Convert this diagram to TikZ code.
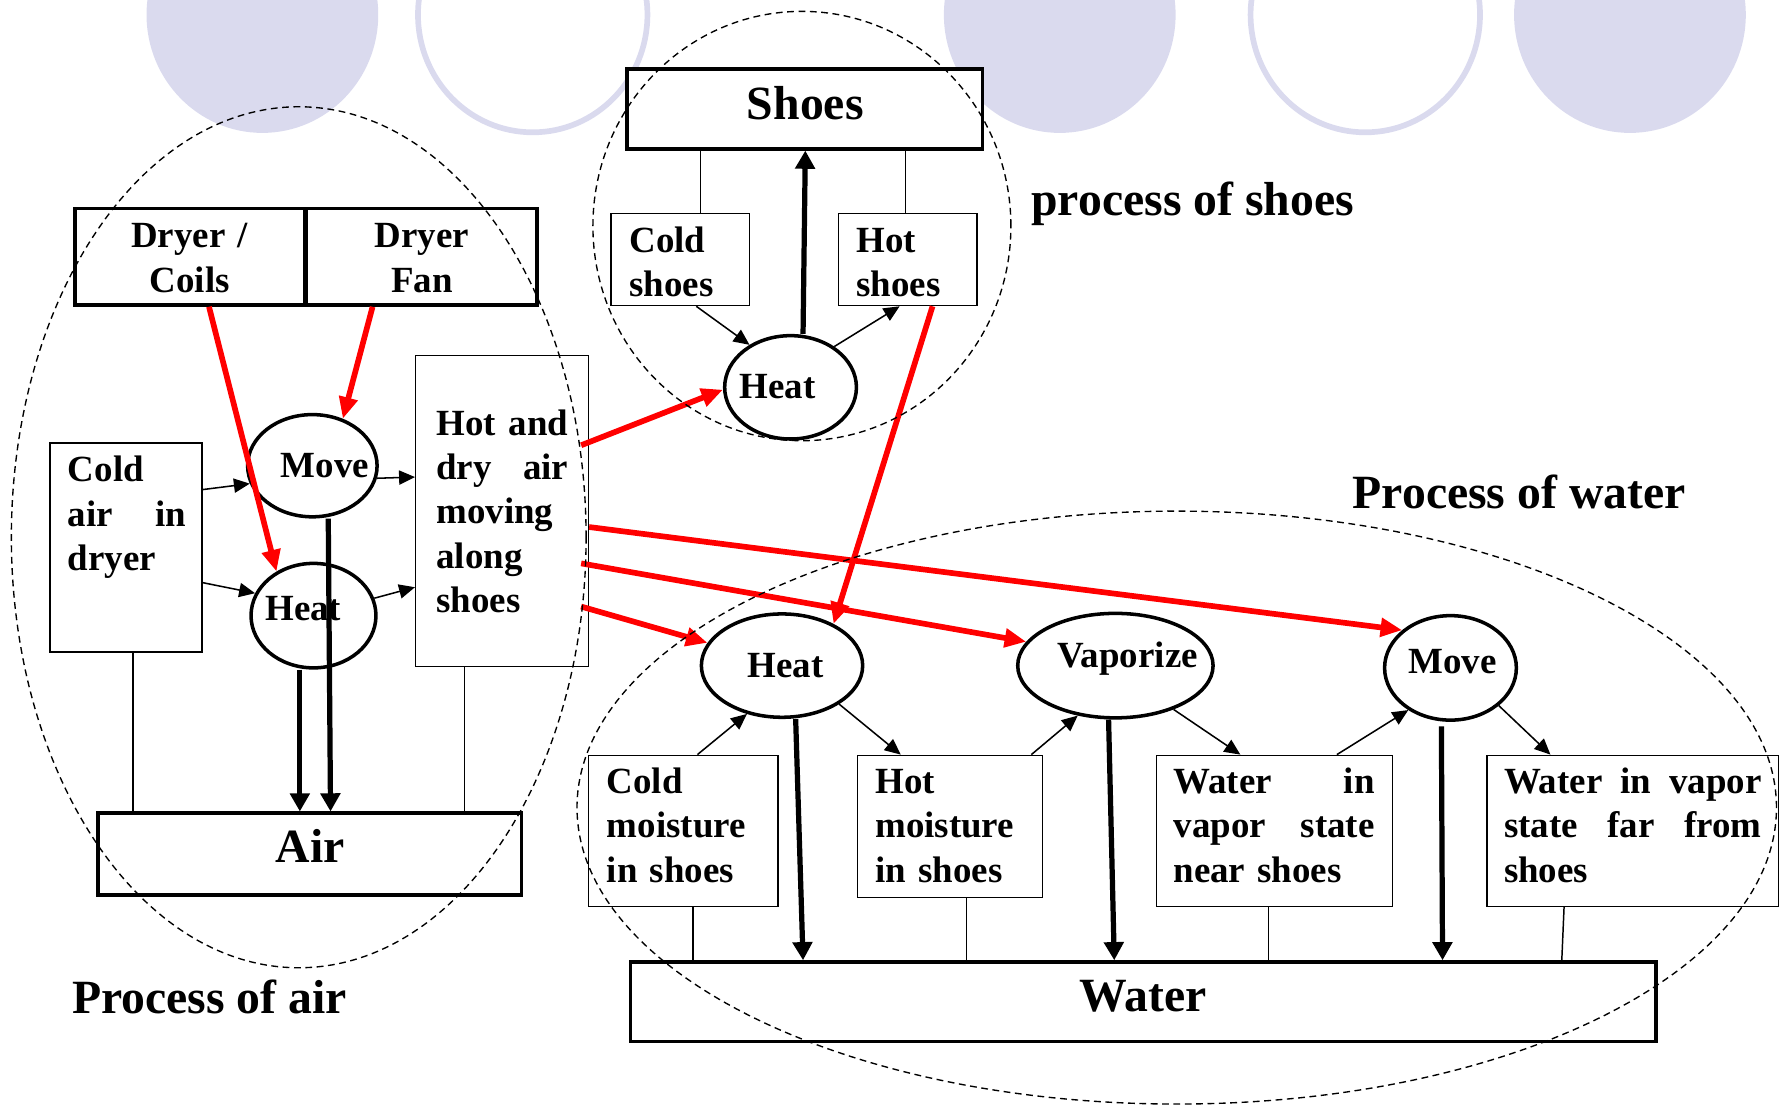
\documentclass[tikz,border=0pt]{standalone}
\usepackage{fontspec}
\setmainfont{Liberation Serif}
\usetikzlibrary{arrows.meta,shapes.geometric}
\definecolor{lav}{RGB}{218,218,238}
\definecolor{pred}{RGB}{255,0,0}

\tikzset{
  box/.style={draw, fill=white, line width=1.3pt, inner sep=0pt},
  heavybox/.style={draw, fill=white, line width=3.2pt, inner sep=0pt},
  oval/.style={ellipse, draw, fill=white, line width=3.1pt, inner sep=0pt},
  small/.style={font=\fontsize{32.5}{39}\selectfont\bfseries, inner sep=0pt},
  boxtext/.style={small, anchor=north west, align=left},
  centertext/.style={small, anchor=north, align=center, text width=190pt},
  ovaltext/.style={small, anchor=base},
  big/.style={font=\fontsize{42}{48}\selectfont\bfseries, inner sep=0pt, anchor=base},
  link/.style={line width=1.3pt},
  flow/.style={line width=1.35pt, -{Triangle[length=14pt,width=12.5pt]}},
  mainflow/.style={line width=4.6pt, -{Triangle[length=16pt,width=17pt]}},
  feed/.style={line width=5pt, color=pred, -{Triangle[length=19pt,width=16pt]}},
  region/.style={ellipse, draw, line width=1.2pt, dash pattern=on 6pt off 4pt, inner sep=0pt}
}

\begin{document}
\begin{tikzpicture}[x=1pt,y=-1pt]
\path[use as bounding box] (0,0) rectangle (1568,975);
\clip (0,0) rectangle (1568,975);

% slide decoration along the top edge
\fill[lav] (231,13) ellipse [x radius=102pt, y radius=104pt];
\draw[lav, line width=5pt] (469,13) ellipse [x radius=101pt, y radius=103.5pt];
\fill[lav] (933,13) ellipse [x radius=102pt, y radius=104pt];
\draw[lav, line width=5pt] (1202,13) ellipse [x radius=101pt, y radius=103.5pt];
\fill[lav] (1435,13) ellipse [x radius=102pt, y radius=104pt];

% boxes
\node[heavybox, minimum width=202pt, minimum height=85pt] (coils) at (167,226) {};
\node[heavybox, minimum width=203pt, minimum height=85pt] (fan) at (371.5,226) {};
\node[heavybox, minimum width=313pt, minimum height=70pt] (shoes) at (708.5,96) {};
\node[box, minimum width=122pt, minimum height=81pt] (colds) at (599,228.5) {};
\node[box, minimum width=122pt, minimum height=81pt] (hots) at (799,228.5) {};
\node[box, minimum width=134pt, minimum height=184pt] (coldair) at (111,482) {};
\node[box, minimum width=152pt, minimum height=274pt] (hotdry) at (442,450) {};
\node[heavybox, minimum width=373pt, minimum height=72pt] (air) at (272.5,752) {};
\node[box, minimum width=167pt, minimum height=133pt] (coldm) at (601.5,731.5) {};
\node[box, minimum width=163pt, minimum height=125pt] (hotm) at (836.5,727.5) {};
\node[box, minimum width=208pt, minimum height=133pt] (near) at (1122,731.5) {};
\node[box, minimum width=257pt, minimum height=133pt] (far) at (1437.5,731.5) {};
\node[heavybox, minimum width=903pt, minimum height=70pt] (water) at (1006.5,882) {};

% processes
\node[oval, minimum width=116pt, minimum height=91pt] (heatS) at (696,341) {};
\node[oval, minimum width=114pt, minimum height=90pt] (moveA) at (275,410) {};
\node[oval, minimum width=110pt, minimum height=92pt] (heatA) at (276,542) {};
\node[oval, minimum width=142pt, minimum height=91pt] (heatW) at (688.5,586) {};
\node[oval, minimum width=172pt, minimum height=92pt] (vap) at (982,586) {};
\node[oval, minimum width=116pt, minimum height=92pt] (moveW) at (1277,588) {};

% texts
\node[big] (shoes-t) at (709,105) {Shoes};
\node[big] (air-t) at (273,759) {Air};
\node[big] (water-t) at (1006.7,890.7) {Water};
\node[big] (lab-shoes) at (1050,190) {process of shoes};
\node[big] (lab-water) at (1337.5,448) {Process of water};
\node[big] (lab-air) at (184.5,892) {Process of air};

\node[centertext] (coils-t) at (167,190.7) {\strut Dryer /\\Coils};
\node[centertext] (fan-t) at (371.5,190.7) {\strut Dryer\\Fan};
\node[boxtext, text width=104pt] (coldair-t) at (59.6,396.7) {\strut Cold\\air\hfill in\\dryer};
\node[boxtext, text width=116pt] (hotdry-t) at (384,355.7) {\strut Hot\hfill and\\dry\hfill air\\moving\\along\\shoes};
\node[boxtext, text width=90pt] (colds-t) at (554,194.9) {\strut Cold\\shoes};
\node[boxtext, text width=90pt] (hots-t) at (753.7,194.9) {\strut Hot\\shoes};
\node[boxtext, text width=140pt] (coldm-t) at (534.1,671.2) {\strut Cold\\moisture\\in shoes};
\node[boxtext, text width=140pt] (hotm-t) at (770.4,671.2) {\strut Hot\\moisture\\in shoes};
\node[boxtext, text width=177pt] (near-t) at (1033,671.2) {\strut Water\hfill in\\vapor\hfill state\\near shoes};
\node[boxtext, text width=226.6pt] (far-t) at (1324,671.2) {\strut Water\hfill in\hfill vapor\\state\hfill far\hfill from\\shoes};

\node[ovaltext] (heatS-t) at (684.5,351) {Heat};
\node[ovaltext] (moveA-t) at (286,420) {Move};
\node[ovaltext] (heatA-t) at (267,546) {Heat};
\node[ovaltext] (heatW-t) at (691.5,596.3) {Heat};
\node[ovaltext] (vap-t) at (992.8,587.5) {Vaporize};
\node[ovaltext] (moveW-t) at (1279,592.8) {Move};

% plain links between parts and wholes
\draw[link] ([xshift=-92pt]shoes.south) -- ([xshift=17.5pt]colds.north);
\draw[link] ([xshift=88.5pt]shoes.south) -- ([xshift=-2pt]hots.north);
\draw[link] ([xshift=6pt]coldair.south) -- ([xshift=-155.5pt]air.north);
\draw[link] ([xshift=-33pt]hotdry.south) -- ([xshift=136.5pt]air.north);
\draw[link] ([xshift=8.5pt]coldm.south) -- ([xshift=-396.5pt]water.north);
\draw[link] ([xshift=14.5pt]hotm.south) -- ([xshift=-155.5pt]water.north);
\draw[link] ([xshift=-5pt]near.south) -- ([xshift=110.5pt]water.north);
\draw[link] ([xshift=-60.5pt]far.south) -- ([xshift=368.5pt]water.north);

% state changes
\draw[flow] ([xshift=14pt]colds.south) -- (heatS.134);
\draw[flow] (heatS.43) -- ([xshift=-7pt]hots.south);
\draw[flow] ([yshift=51pt]coldair.east) -- (moveA.196);
\draw[flow] ([yshift=-31pt]coldair.east) -- (heatA.159);
\draw[flow] (moveA.349) -- ([yshift=30pt]hotdry.west);
\draw[flow] (heatA.16) -- ([yshift=-67pt]hotdry.west);
\draw[flow] ([xshift=12.5pt]coldm.north) -- (heatW.234);
\draw[flow] (heatW.326) -- ([xshift=-43.5pt]hotm.north);
\draw[flow] ([xshift=71.5pt]hotm.north) -- (vap.233);
\draw[flow] (vap.323) -- ([xshift=-30pt]near.north);
\draw[flow] ([xshift=55pt]near.north) -- (moveW.225);
\draw[flow] (moveW.322) -- ([xshift=-72.5pt]far.north);

% processes acting on objects
\draw[mainflow] ([xshift=11pt]heatS.north) -- ([xshift=0.5pt]shoes.south);
\draw[mainflow] ([xshift=14pt]moveA.south) -- ([xshift=18.5pt]air.north);
\draw[mainflow] ([xshift=-12pt]heatA.south) -- ([xshift=-8.5pt]air.north);
\draw[mainflow] ([xshift=12pt]heatW.south) -- ([xshift=-299.5pt]water.north);
\draw[mainflow] ([xshift=-6pt]vap.south) -- ([xshift=-25.5pt]water.north);
\draw[mainflow] ([xshift=-8pt,yshift=-4pt]moveW.south) -- ([xshift=263.5pt]water.north);

% causes
\draw[feed] ([xshift=17pt]coils.south) -- (heatA.130);
\draw[feed] ([xshift=-43.5pt]fan.south) -- (moveA.57);
\draw[feed] ([xshift=-7pt,yshift=58pt]hotdry.east) -- (heatS.182);
\draw[feed] ([xshift=22pt]hots.south) -- (heatW.39);
\draw[feed] ([yshift=-14pt]hotdry.east) -- (moveW.142);
\draw[feed] ([xshift=-7pt,yshift=-46pt]hotdry.east) -- (vap.165);
\draw[feed] ([xshift=-7pt,yshift=-84pt]hotdry.east) -- (heatW.163);

% process regions
\node[region, minimum width=506pt, minimum height=758pt] (airzone) at (263,473) {};
\node[region, minimum width=368pt, minimum height=378pt] (shoezone) at (706,199) {};
\node[region, minimum width=1056pt, minimum height=522pt] (waterzone) at (1036,711) {};
\end{tikzpicture}
\end{document}
